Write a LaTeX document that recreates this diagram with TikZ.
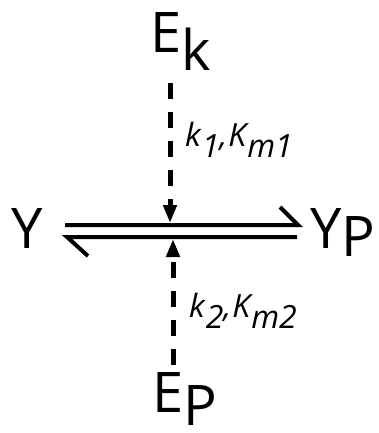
\documentclass[tikz,border=0pt]{standalone}
\usepackage{fontspec}
\setmainfont{Open Sans}
\usetikzlibrary{arrows.meta}
\begin{document}
\begin{tikzpicture}[x=1pt,y=-1pt,
  big/.style={inner sep=0pt, font=\fontsize{56}{60}\selectfont, anchor=base west},
  lab/.style={inner sep=0pt, font=\fontsize{32}{36}\selectfont\itshape, anchor=base west},
  rxn/.style={line width=4pt, line join=miter},
  dsh/.style={line width=5pt, dash pattern=on 16pt off 13pt, -{Triangle[length=18pt,width=13pt]}}]
\useasboundingbox (0,0) rectangle (379,433);
% species
\node[big] (Ek) at (150,53) {E\raisebox{-18pt}{k}};
\node[big] (Ep) at (152,412) {E\raisebox{-13pt}{P}};
\node[big] (Y) at (11,248) {Y};
\node[big] (Yp) at (310,248) {Y\raisebox{-8pt}{P}};
% rate labels
\node[lab] (l1) at (185,146) {k\kern1pt\raisebox{-11pt}{1},\kern1pt K\kern1pt\raisebox{-11pt}{m1}};
\node[lab] (l2) at (189,317) {k\kern1pt\raisebox{-11pt}{2},\kern1pt K\kern1pt\raisebox{-11pt}{m2}};
% reaction coordinates
\coordinate (fwdA) at (65,225);
\coordinate (fwdB) at (298,225);
\coordinate (fwdBarb) at (280,207);
\coordinate (revA) at (297,237);
\coordinate (revB) at (67,237);
\coordinate (revBarb) at (88,256);
\draw[rxn] (fwdA) -- (fwdB) -- (fwdBarb);
\draw[rxn] (revA) -- (revB) -- (revBarb);
% enzyme arrows
\coordinate (topStart) at (170,83);
\coordinate (topTip) at (170,223);
\coordinate (botStart) at (173,365);
\coordinate (botTip) at (173,239);
\draw[dsh] (topStart) -- (topTip);
\draw[dsh] (botStart) -- (botTip);
\end{tikzpicture}
\end{document}
